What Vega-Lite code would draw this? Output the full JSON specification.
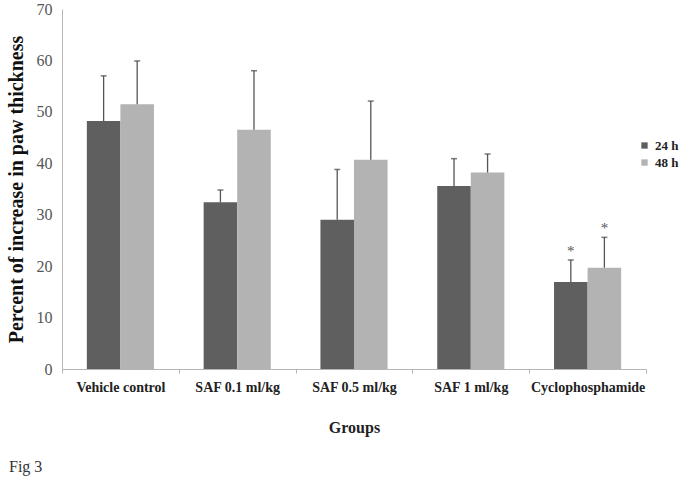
{
  "$schema": "https://vega.github.io/schema/vega-lite/v6.json",
  "width": 584,
  "height": 360,
  "autosize": {"type": "none"},
  "padding": {"left": 62, "top": 9, "right": 46, "bottom": 119},
  "background": "white",
  "title": {"text": "Fig 3", "orient": "bottom", "anchor": "start", "frame": "bounds", "dx": 3, "offset": 24, "font": "Liberation Serif", "fontSize": 16, "fontWeight": "normal", "color": "#333"},
  "config": {"view": {"stroke": null}, "font": "Liberation Serif"},
  "data": {"values": [
    {"group": "Vehicle control", "time": "24 h", "value": 48.2, "err": 57.0, "star": ""},
    {"group": "Vehicle control", "time": "48 h", "value": 51.5, "err": 59.9, "star": ""},
    {"group": "SAF 0.1 ml/kg", "time": "24 h", "value": 32.4, "err": 34.8, "star": ""},
    {"group": "SAF 0.1 ml/kg", "time": "48 h", "value": 46.5, "err": 58.0, "star": ""},
    {"group": "SAF 0.5 ml/kg", "time": "24 h", "value": 29.0, "err": 38.8, "star": ""},
    {"group": "SAF 0.5 ml/kg", "time": "48 h", "value": 40.7, "err": 52.1, "star": ""},
    {"group": "SAF 1 ml/kg", "time": "24 h", "value": 35.6, "err": 40.9, "star": ""},
    {"group": "SAF 1 ml/kg", "time": "48 h", "value": 38.2, "err": 41.8, "star": ""},
    {"group": "Cyclophosphamide", "time": "24 h", "value": 16.9, "err": 21.2, "star": "*"},
    {"group": "Cyclophosphamide", "time": "48 h", "value": 19.7, "err": 25.6, "star": "*"}
  ]},
  "encoding": {
    "x": {"field": "group", "type": "nominal", "sort": null,
      "scale": {"paddingInner": 0, "paddingOuter": 0},
      "axis": {"title": "Groups", "labelAngle": 0, "tickBand": "extent", "domainColor": "#b5b5b5", "tickColor": "#b5b5b5", "tickSize": 4,
        "labelFont": "Liberation Serif", "labelFontWeight": "bold", "labelFontSize": 14, "labelColor": "#222", "labelPadding": 7,
        "titleFont": "Liberation Serif", "titleFontWeight": "bold", "titleFontSize": 16, "titleColor": "#222", "titlePadding": 25}},
    "xOffset": {"field": "time", "type": "nominal", "scale": {"paddingInner": 0, "paddingOuter": 0.74}},
    "y": {"field": "value", "type": "quantitative"}
  },
  "layer": [
    {"mark": {"type": "bar"},
     "encoding": {
       "y": {"field": "value", "type": "quantitative", "scale": {"domain": [0, 70]},
         "axis": {"title": "Percent of increase in paw thickness", "values": [0,10,20,30,40,50,60,70], "grid": false, "ticks": false,
           "domainColor": "#b5b5b5", "labelFont": "Liberation Serif", "labelFontSize": 16, "labelColor": "#555", "labelPadding": 10,
           "titleFont": "Liberation Serif", "titleFontWeight": "bold", "titleFontSize": 20, "titleColor": "#111", "titlePadding": 10}},
       "color": {"field": "time", "type": "nominal", "scale": {"domain": ["24 h", "48 h"], "range": ["#5f5f5f", "#b3b3b3"]},
         "legend": {"title": null, "orient": "none", "legendX": 576, "legendY": 130, "symbolType": "square", "symbolSize": 40, "symbolStrokeWidth": 0,
           "labelFont": "Liberation Serif", "labelFontWeight": "bold", "labelFontSize": 13, "labelColor": "#222", "rowPadding": 3}}
     }},
    {"mark": {"type": "rule", "color": "#555", "strokeWidth": 1.3},
     "encoding": {"y": {"field": "value", "type": "quantitative"}, "y2": {"field": "err"}}},
    {"mark": {"type": "tick", "color": "#444", "thickness": 1.5, "size": 6},
     "encoding": {"y": {"field": "err", "type": "quantitative"}}},
    {"mark": {"type": "text", "dy": -9, "fontSize": 15, "color": "#555", "font": "Liberation Serif"},
     "encoding": {"y": {"field": "err", "type": "quantitative"}, "text": {"field": "star"}}}
  ]
}
